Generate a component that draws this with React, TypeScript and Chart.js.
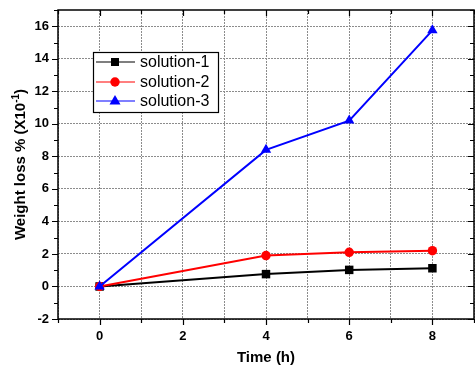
import React, { useEffect, useRef } from "react";
import { Chart, registerables } from "chart.js";

Chart.register(...registerables);

const timeHours = [0, 4, 6, 8];
const solution1 = [0, 0.76, 1.02, 1.12];
const solution2 = [0, 1.9, 2.1, 2.2];
const solution3 = [0, 8.4, 10.2, 15.75];
const seriesNames = ["solution-1", "solution-2", "solution-3"];
const seriesColors = ["#000000", "#ff0000", "#0000ff"];
const seriesMarkers = ["rect", "circle", "triangle"];
const xTickLabels = [0, 2, 4, 6, 8];
const yTickLabels = [-2, 0, 2, 4, 6, 8, 10, 12, 14, 16];
const xTitle = "Time (h)";
const yTitleMain = "Weight loss % (X10";
const yTitleSup = "-1";
const yTitleEnd = ")";

const FONT = "'Liberation Sans', Arial, sans-serif";

const zeroPad = (s: any) => {
  s.paddingTop = 0;
  s.paddingBottom = 0;
  s.paddingLeft = 0;
  s.paddingRight = 0;
};

const framePlugin = {
  id: "framePlugin",
  afterDraw(chart: any) {
    const { ctx, chartArea } = chart;
    const xs = chart.scales.x;
    const ys = chart.scales.y;
    const { left, right, top, bottom } = chartArea;
    ctx.save();
    ctx.strokeStyle = "#000";
    ctx.lineWidth = 1.5;
    ctx.strokeRect(left, top, right - left, bottom - top);
    ctx.lineWidth = 1.2;
    ctx.beginPath();
    for (let v = xs.min; v <= xs.max; v++) {
      const px = Math.round(xs.getPixelForValue(v)) + 0.5;
      const len = v % 2 === 0 ? 6 : 4;
      ctx.moveTo(px, bottom);
      ctx.lineTo(px, bottom + len);
      ctx.moveTo(px, top);
      ctx.lineTo(px, top + len);
    }
    for (let v = ys.min; v <= ys.max; v++) {
      const py = Math.round(ys.getPixelForValue(v)) + 0.5;
      const len = v % 2 === 0 ? 6 : 4;
      ctx.moveTo(left, py);
      ctx.lineTo(left - len, py);
      ctx.moveTo(right, py);
      ctx.lineTo(right - len, py);
    }
    ctx.stroke();

    // axis titles
    ctx.fillStyle = "#000";
    ctx.font = `bold 15px ${FONT}`;
    ctx.textAlign = "center";
    ctx.textBaseline = "middle";
    ctx.fillText(xTitle, (left + right) / 2, 358);

    // y title rotated with superscript
    const mainW = ctx.measureText(yTitleMain).width;
    const endW = ctx.measureText(yTitleEnd).width;
    ctx.font = `bold 10px ${FONT}`;
    const supW = ctx.measureText(yTitleSup).width;
    const total = mainW + supW + endW;
    ctx.translate(20, (top + bottom) / 2);
    ctx.rotate(-Math.PI / 2);
    ctx.textAlign = "left";
    ctx.textBaseline = "alphabetic";
    let x0 = -total / 2;
    ctx.font = `bold 15px ${FONT}`;
    ctx.fillText(yTitleMain, x0, 5);
    x0 += mainW;
    ctx.font = `bold 10px ${FONT}`;
    ctx.fillText(yTitleSup, x0, -1);
    x0 += supW;
    ctx.font = `bold 15px ${FONT}`;
    ctx.fillText(yTitleEnd, x0, 5);
    ctx.restore();

    // legend
    ctx.save();
    const lx = 93, ly = 52, lw = 125, lh = 60;
    ctx.fillStyle = "#fff";
    ctx.fillRect(lx, ly, lw, lh);
    ctx.strokeStyle = "#000";
    ctx.lineWidth = 1.2;
    ctx.strokeRect(lx + 0.5, ly + 0.5, lw, lh);
    const rows = [62, 82, 101];
    seriesNames.forEach((name, i) => {
      const cy = rows[i];
      ctx.strokeStyle = seriesColors[i];
      ctx.lineWidth = 1.2;
      ctx.beginPath();
      ctx.moveTo(96, cy);
      ctx.lineTo(135, cy);
      ctx.stroke();
      ctx.fillStyle = seriesColors[i];
      ctx.beginPath();
      if (i === 0) {
        ctx.rect(111, cy - 4, 8, 8);
      } else if (i === 1) {
        ctx.arc(115, cy, 4.7, 0, Math.PI * 2);
      } else {
        ctx.moveTo(115, cy - 6);
        ctx.lineTo(120.5, cy + 3.5);
        ctx.lineTo(109.5, cy + 3.5);
        ctx.closePath();
      }
      ctx.fill();
      ctx.fillStyle = "#000";
      ctx.font = `16px ${FONT}`;
      ctx.textAlign = "left";
      ctx.textBaseline = "middle";
      ctx.fillText(name, 140, cy + 1);
    });
    ctx.restore();
  },
};

export default function App() {
  const ref = useRef<HTMLCanvasElement | null>(null);
  useEffect(() => {
    document.body.style.margin = "0";
    const canvas = ref.current;
    if (!canvas) return;
    const series = [solution1, solution2, solution3];
    const chart = new Chart(canvas, {
      type: "line",
      data: {
        datasets: series.map((vals, i) => ({
          label: seriesNames[i],
          data: timeHours.map((t, j) => ({ x: t, y: vals[j] })),
          borderColor: seriesColors[i],
          backgroundColor: seriesColors[i],
          borderWidth: 2,
          pointStyle: seriesMarkers[i] as any,
          pointRadius: i === 1 ? 4.7 : 6,
          pointBorderWidth: 0,
          tension: 0,
          order: 2 - i,
          clip: false as any,
        })),
      },
      options: {
        animation: false,
        responsive: false,
        layout: { autoPadding: false, padding: { top: 10, right: 1, left: 0, bottom: 0 } },
        plugins: { legend: { display: false }, tooltip: { enabled: false } },
        scales: {
          x: {
            type: "linear",
            min: -1,
            max: 9,
            ticks: {
              stepSize: 1,
              autoSkip: false,
              maxRotation: 0,
              padding: 10,
              color: "#000",
              font: { family: FONT, weight: "bold", size: 13 },
              callback: (v: any) => (xTickLabels.includes(Number(v)) ? String(v) : ""),
            },
            grid: { color: "#8c8c8c", lineWidth: 1, drawTicks: false },
            border: { display: false, dash: [2, 1] },
            afterFit: (s: any) => {
              s.height = 48;
              zeroPad(s);
            },
          },
          y: {
            type: "linear",
            min: -2,
            max: 17,
            ticks: {
              stepSize: 1,
              autoSkip: false,
              padding: 9,
              color: "#000",
              font: { family: FONT, weight: "bold", size: 13 },
              callback: (v: any) => (yTickLabels.includes(Number(v)) ? String(v) : ""),
            },
            grid: {
              color: (c: any) => (c.tick && Math.abs(c.tick.value) % 2 === 0 ? "#8c8c8c" : "rgba(0,0,0,0)"),
              lineWidth: 1,
              drawTicks: false,
            },
            border: { display: false, dash: [2, 1] },
            afterFit: (s: any) => {
              s.width = 58;
              zeroPad(s);
            },
          },
        },
      },
      plugins: [framePlugin],
    });
    return () => chart.destroy();
  }, []);
  return (
    <div style={{ width: 475, height: 367 }}>
      <canvas ref={ref} width={475} height={367} style={{ display: "block" }} />
    </div>
  );
}
